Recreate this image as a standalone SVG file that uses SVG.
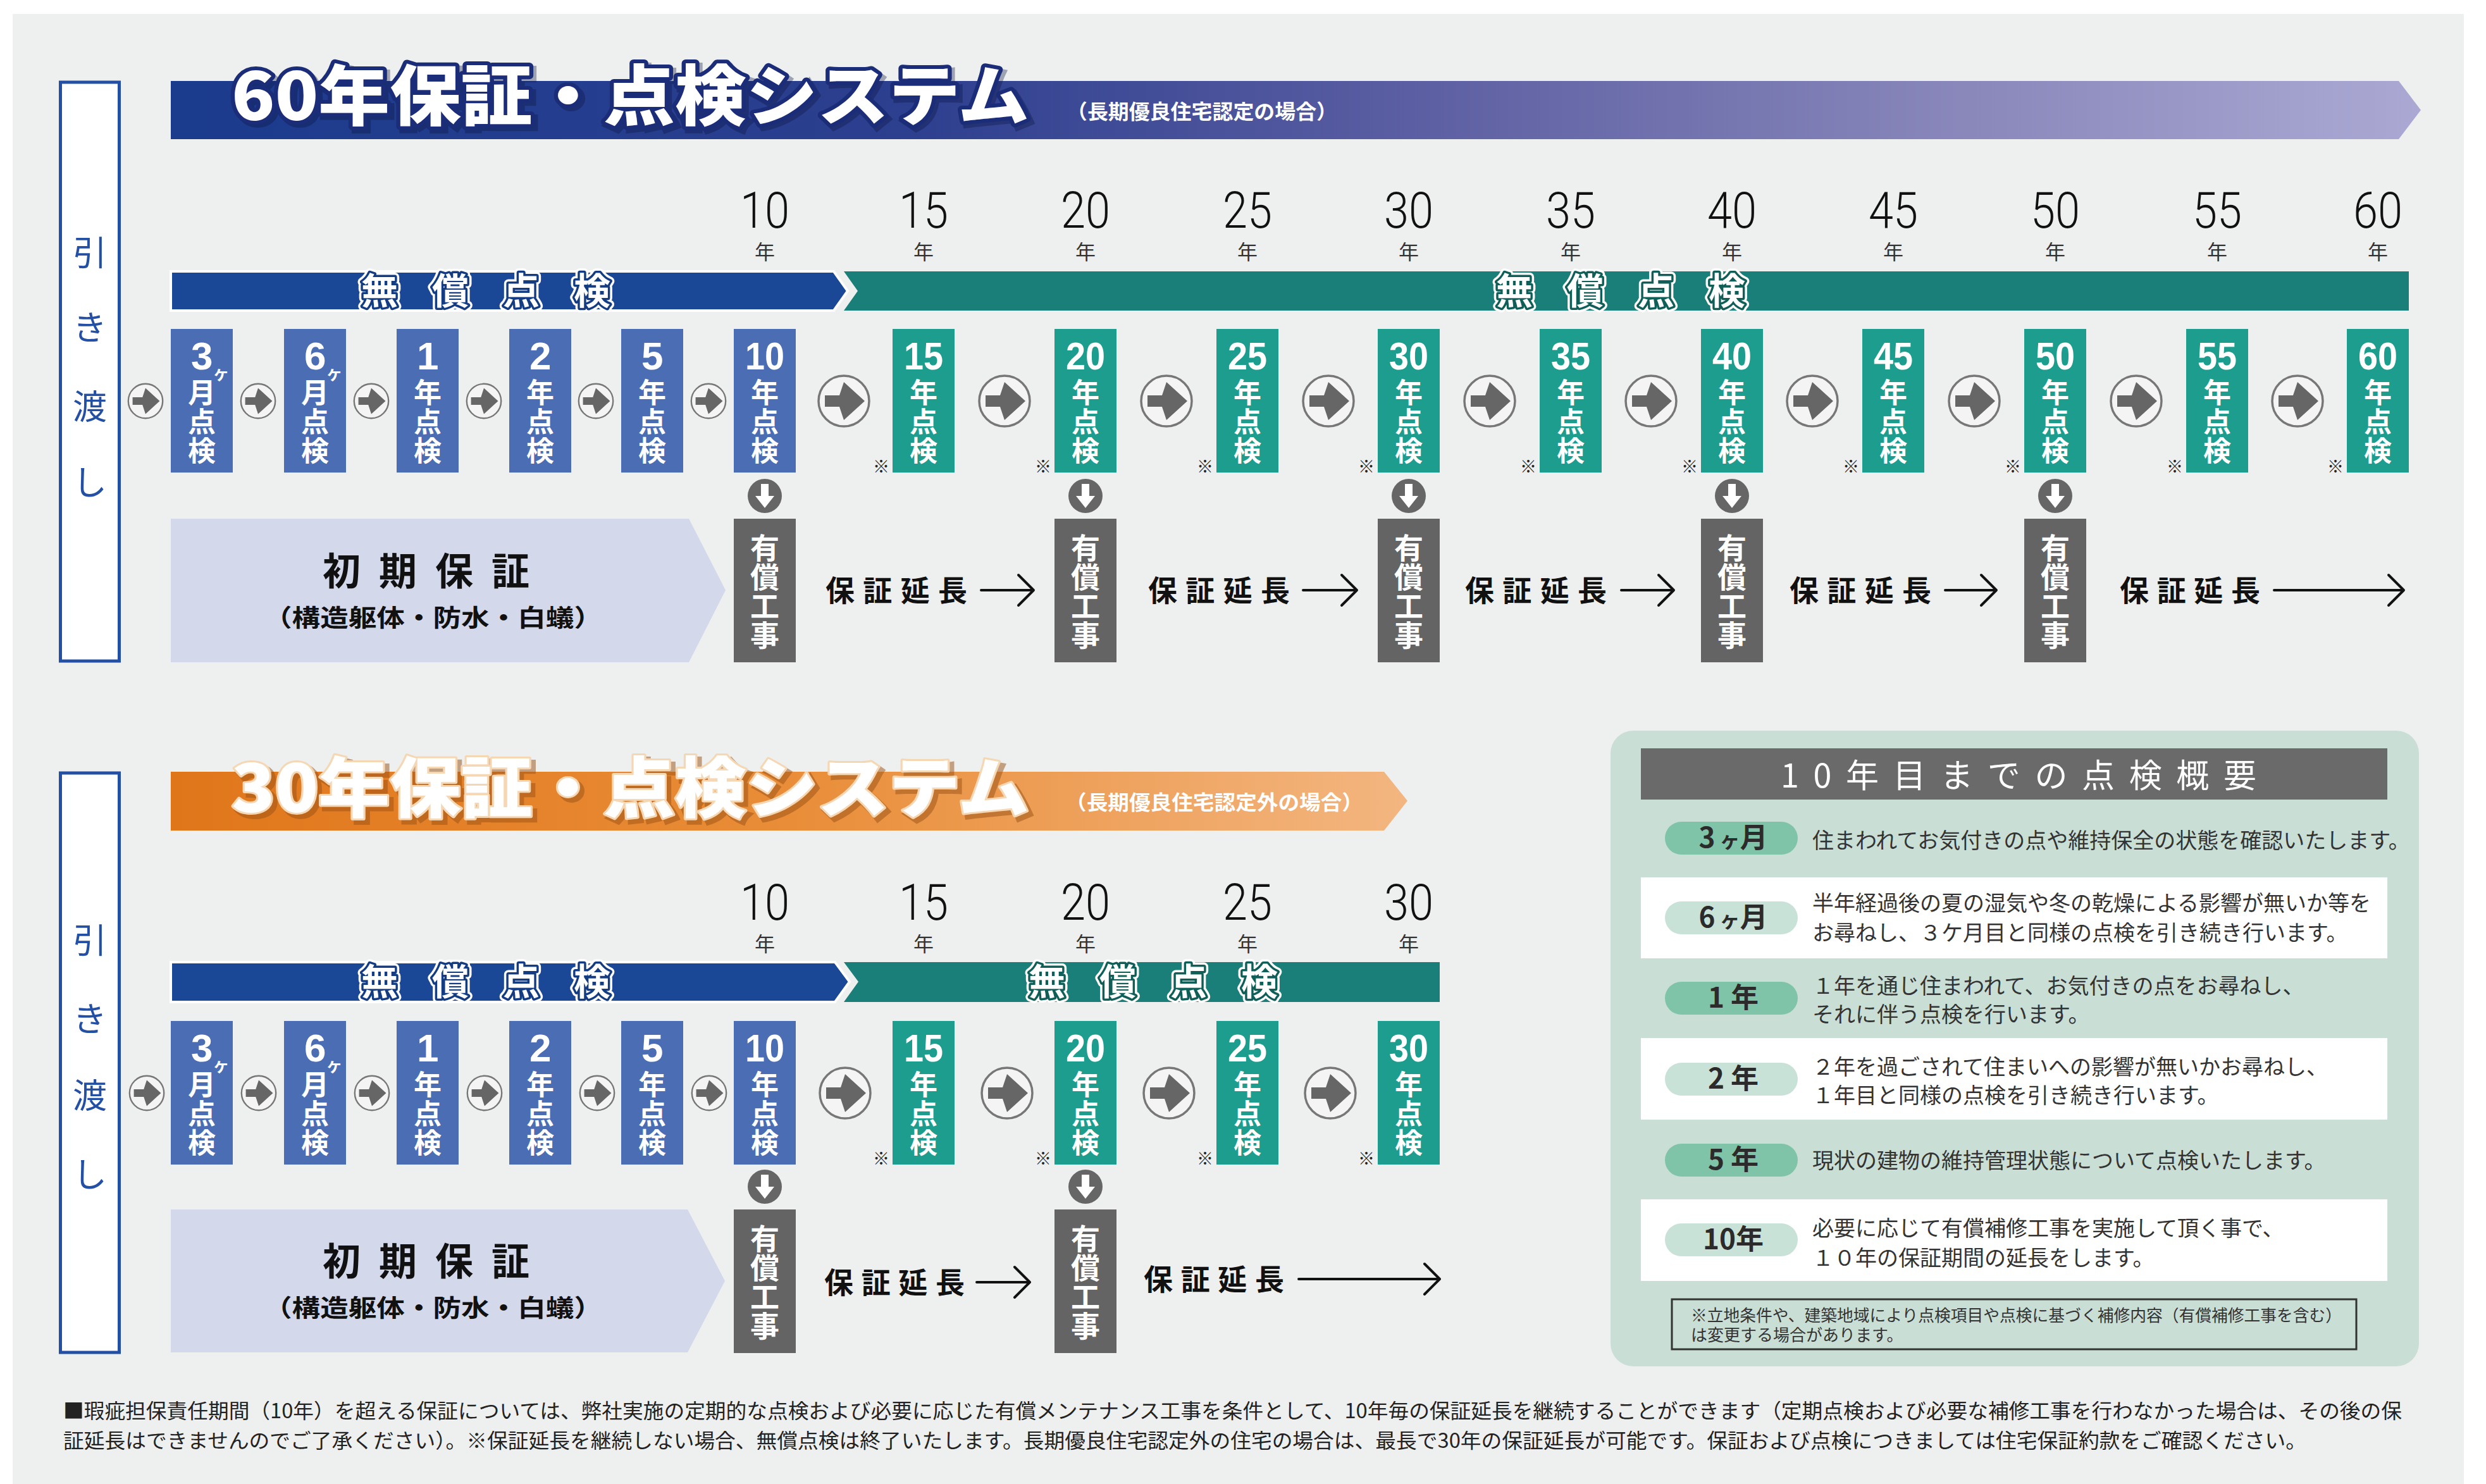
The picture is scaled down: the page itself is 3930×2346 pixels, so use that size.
<svg xmlns="http://www.w3.org/2000/svg" xmlns:xlink="http://www.w3.org/1999/xlink" width="3930" height="2346" viewBox="0 0 3930 2346">
<style>
text{font-family:'Noto Sans CJK JP','Noto Sans CJK SC',sans-serif}
.bb{fill:#4a6db3}
.bg{fill:#1d9d8e}
.bp{fill:#646464}
.dn{font-family:'Liberation Sans',Arial,sans-serif;font-size:62px;font-weight:700;fill:#fff}
.s2{font-family:'Noto Sans CJK JP',sans-serif;font-size:26px}
.vc{font-size:44px;font-weight:700;fill:#fff;writing-mode:vertical-rl;letter-spacing:2px}
.km{font-size:26px;fill:#222;text-anchor:end}
.yn{font-size:32px;fill:#333}
.yl{font-family:Roboto,'Liberation Sans',sans-serif;font-size:80px;font-weight:300;fill:#111}
.pk{font-size:46px;font-weight:700;fill:#fff;text-anchor:middle}
.ext{font-size:46px;font-weight:700;fill:#111}
.arr{fill:none;stroke:#111;stroke-width:4;stroke-linecap:round;stroke-linejoin:round}
.hw{font-size:54px;fill:#2350a5;text-anchor:middle}
.hb{fill:#fff;stroke:#2350a5;stroke-width:5}
.fb{font-size:58px;font-weight:700;fill:#fff;text-anchor:middle;stroke-linejoin:round}
.ds{font-size:34px;fill:#333}
.pt{font-size:44px;font-weight:700;fill:#2b2b2b;text-anchor:middle}
.pd{fill:#7fc4a8}
.pl{fill:#c9e2d8}
.wr{fill:#fff}
</style>
<defs>
<linearGradient id="g60" x1="270" y1="0" x2="3827" y2="0" gradientUnits="userSpaceOnUse">
<stop offset="0" stop-color="#1b3b8d"/>
<stop offset="0.33" stop-color="#2d3f8f"/>
<stop offset="0.55" stop-color="#5b5ea2"/>
<stop offset="0.8" stop-color="#8a88bb"/>
<stop offset="1" stop-color="#aba9d3"/>
</linearGradient>
<linearGradient id="g30" x1="270" y1="0" x2="2225" y2="0" gradientUnits="userSpaceOnUse">
<stop offset="0" stop-color="#e0761a"/>
<stop offset="0.5" stop-color="#e98d38"/>
<stop offset="1" stop-color="#f3b680"/>
</linearGradient>
<g id="ca">
<circle r="40" fill="#f4f4f4" stroke="#777" stroke-width="3.5"/>
<path d="M-30,-9 H-7 L0,-30 L33,0 L0,30 L-7,9 H-30 Z" fill="#666"/>
</g>
<g id="cd">
<circle r="27" fill="#666"/>
<path d="M-6,-19 H6 V0 H15 L0,19 L-15,0 H-6 Z" fill="#fff"/>
</g>
</defs>

<rect width="3930" height="2346" fill="#fff"/>
<rect x="20" y="22" width="3875" height="2324" fill="#eeefef"/>

<!-- ===================== 60 YEAR SECTION ===================== -->
<g id="sec60">
<g id="handover60"><rect class="hb" x="95.5" y="130" width="93" height="915"/><text class="hw" x="142 142 142 142" y="420 538 663 783">引き渡し</text></g>
<g id="title60">
<polygon points="270,128 3792,128 3827,174 3792,220 270,220" fill="url(#g60)"/>
<text x="371" y="195" font-size="104" font-weight="900" textLength="1261" lengthAdjust="spacingAndGlyphs" fill="#0b1640" stroke="#0b1640" stroke-width="12" opacity="0.35">60年保証・点検システム</text>
<text x="366" y="190" font-size="104" font-weight="900" textLength="1261" lengthAdjust="spacingAndGlyphs" fill="#fff" stroke="#1b2c78" stroke-width="12" stroke-linejoin="round" paint-order="stroke">60年保証・点検システム</text>
<text x="1686" y="188" font-size="32" font-weight="700" fill="#fff" textLength="428" lengthAdjust="spacingAndGlyphs">（長期優良住宅認定の場合）</text>
</g>
<g id="years60">
<text class="yn"><tspan class="yl" x="1170" y="360" textLength="78" lengthAdjust="spacingAndGlyphs">10</tspan><tspan x="1193" y="410">年</tspan></text>
<text class="yn"><tspan class="yl" x="1421" y="360" textLength="78" lengthAdjust="spacingAndGlyphs">15</tspan><tspan x="1444" y="410">年</tspan></text>
<text class="yn"><tspan class="yl" x="1677" y="360" textLength="78" lengthAdjust="spacingAndGlyphs">20</tspan><tspan x="1700" y="410">年</tspan></text>
<text class="yn"><tspan class="yl" x="1933" y="360" textLength="78" lengthAdjust="spacingAndGlyphs">25</tspan><tspan x="1956" y="410">年</tspan></text>
<text class="yn"><tspan class="yl" x="2188" y="360" textLength="78" lengthAdjust="spacingAndGlyphs">30</tspan><tspan x="2211" y="410">年</tspan></text>
<text class="yn"><tspan class="yl" x="2444" y="360" textLength="78" lengthAdjust="spacingAndGlyphs">35</tspan><tspan x="2467" y="410">年</tspan></text>
<text class="yn"><tspan class="yl" x="2699" y="360" textLength="78" lengthAdjust="spacingAndGlyphs">40</tspan><tspan x="2722" y="410">年</tspan></text>
<text class="yn"><tspan class="yl" x="2954" y="360" textLength="78" lengthAdjust="spacingAndGlyphs">45</tspan><tspan x="2977" y="410">年</tspan></text>
<text class="yn"><tspan class="yl" x="3210" y="360" textLength="78" lengthAdjust="spacingAndGlyphs">50</tspan><tspan x="3233" y="410">年</tspan></text>
<text class="yn"><tspan class="yl" x="3466" y="360" textLength="78" lengthAdjust="spacingAndGlyphs">55</tspan><tspan x="3489" y="410">年</tspan></text>
<text class="yn"><tspan class="yl" x="3720" y="360" textLength="78" lengthAdjust="spacingAndGlyphs">60</tspan><tspan x="3743" y="410">年</tspan></text>
</g>
<g id="free60a">
<polygon points="270,429 1318,429 1340,460 1318,491 270,491" fill="#1a4896" stroke="#fff" stroke-width="4"/>
<text class="fb" x="600 712 824 936" y="481" stroke="#fff" stroke-width="14">無償点検</text>
<text class="fb" x="600 712 824 936" y="481" stroke="#133c82" stroke-width="7" paint-order="stroke">無償点検</text>
</g>
<g id="free60b">
<polygon points="1334,429 3808,429 3808,491 1334,491 1356,460" fill="#1a7f78"/>
<text class="fb" x="2394 2506 2618 2730" y="481" stroke="#fff" stroke-width="14">無償点検</text>
<text class="fb" x="2394 2506 2618 2730" y="481" stroke="#0f5e58" stroke-width="7" paint-order="stroke">無償点検</text>
</g>
<g id="n60-3m"><rect class="bb" x="270" y="520" width="98" height="227"/><text class="dn" x="302" y="584">3<tspan class="s2" dy="16">ヶ</tspan></text><text class="vc" x="319" y="598">月点検</text></g>
<g id="n60-6m"><rect class="bb" x="449" y="520" width="98" height="227"/><text class="dn" x="481" y="584">6<tspan class="s2" dy="16">ヶ</tspan></text><text class="vc" x="498" y="598">月点検</text></g>
<g id="n60-1y"><rect class="bb" x="627" y="520" width="98" height="227"/><text class="dn" x="659" y="584">1</text><text class="vc" x="676" y="598">年点検</text></g>
<g id="n60-2y"><rect class="bb" x="805" y="520" width="98" height="227"/><text class="dn" x="837" y="584">2</text><text class="vc" x="854" y="598">年点検</text></g>
<g id="n60-5y"><rect class="bb" x="982" y="520" width="98" height="227"/><text class="dn" x="1014" y="584">5</text><text class="vc" x="1031" y="598">年点検</text></g>
<g id="n60-10y"><rect class="bb" x="1160" y="520" width="98" height="227"/><text class="dn" x="1178" y="584" textLength="62" lengthAdjust="spacingAndGlyphs">10</text><text class="vc" x="1209" y="598">年点検</text></g>
<g id="n60-15y"><rect class="bg" x="1411" y="520" width="98" height="227"/><text class="dn" x="1429" y="584" textLength="62" lengthAdjust="spacingAndGlyphs">15</text><text class="vc" x="1460" y="598">年点検</text><text class="km" x="1406" y="747">※</text></g>
<g id="n60-20y"><rect class="bg" x="1667" y="520" width="98" height="227"/><text class="dn" x="1685" y="584" textLength="62" lengthAdjust="spacingAndGlyphs">20</text><text class="vc" x="1716" y="598">年点検</text><text class="km" x="1662" y="747">※</text></g>
<g id="n60-25y"><rect class="bg" x="1923" y="520" width="98" height="227"/><text class="dn" x="1941" y="584" textLength="62" lengthAdjust="spacingAndGlyphs">25</text><text class="vc" x="1972" y="598">年点検</text><text class="km" x="1918" y="747">※</text></g>
<g id="n60-30y"><rect class="bg" x="2178" y="520" width="98" height="227"/><text class="dn" x="2196" y="584" textLength="62" lengthAdjust="spacingAndGlyphs">30</text><text class="vc" x="2227" y="598">年点検</text><text class="km" x="2173" y="747">※</text></g>
<g id="n60-35y"><rect class="bg" x="2434" y="520" width="98" height="227"/><text class="dn" x="2452" y="584" textLength="62" lengthAdjust="spacingAndGlyphs">35</text><text class="vc" x="2483" y="598">年点検</text><text class="km" x="2429" y="747">※</text></g>
<g id="n60-40y"><rect class="bg" x="2689" y="520" width="98" height="227"/><text class="dn" x="2707" y="584" textLength="62" lengthAdjust="spacingAndGlyphs">40</text><text class="vc" x="2738" y="598">年点検</text><text class="km" x="2684" y="747">※</text></g>
<g id="n60-45y"><rect class="bg" x="2944" y="520" width="98" height="227"/><text class="dn" x="2962" y="584" textLength="62" lengthAdjust="spacingAndGlyphs">45</text><text class="vc" x="2993" y="598">年点検</text><text class="km" x="2939" y="747">※</text></g>
<g id="n60-50y"><rect class="bg" x="3200" y="520" width="98" height="227"/><text class="dn" x="3218" y="584" textLength="62" lengthAdjust="spacingAndGlyphs">50</text><text class="vc" x="3249" y="598">年点検</text><text class="km" x="3195" y="747">※</text></g>
<g id="n60-55y"><rect class="bg" x="3456" y="520" width="98" height="227"/><text class="dn" x="3474" y="584" textLength="62" lengthAdjust="spacingAndGlyphs">55</text><text class="vc" x="3505" y="598">年点検</text><text class="km" x="3451" y="747">※</text></g>
<g id="n60-60y"><rect class="bg" x="3710" y="520" width="98" height="227"/><text class="dn" x="3728" y="584" textLength="62" lengthAdjust="spacingAndGlyphs">60</text><text class="vc" x="3759" y="598">年点検</text><text class="km" x="3705" y="747">※</text></g>
<g id="init60"><polygon points="270,820 1089,820 1147,933 1089,1047 270,1047" fill="#d3d8ea"/><text x="540 629 718 807" y="925" font-size="60" font-weight="700" fill="#111" text-anchor="middle">初期保証</text><text x="417" y="990" font-size="38" font-weight="700" fill="#111" textLength="535" lengthAdjust="spacingAndGlyphs">（構造躯体・防水・白蟻）</text></g>
<g id="p60-10"><rect class="bp" x="1160" y="820" width="98" height="227"/><text class="pk" x="1209 1209 1209 1209" y="883 929 975 1021">有償工事</text></g>
<g id="p60-20"><rect class="bp" x="1667" y="820" width="98" height="227"/><text class="pk" x="1716 1716 1716 1716" y="883 929 975 1021">有償工事</text></g>
<g id="p60-30"><rect class="bp" x="2178" y="820" width="98" height="227"/><text class="pk" x="2227 2227 2227 2227" y="883 929 975 1021">有償工事</text></g>
<g id="p60-40"><rect class="bp" x="2689" y="820" width="98" height="227"/><text class="pk" x="2738 2738 2738 2738" y="883 929 975 1021">有償工事</text></g>
<g id="p60-50"><rect class="bp" x="3200" y="820" width="98" height="227"/><text class="pk" x="3249 3249 3249 3249" y="883 929 975 1021">有償工事</text></g>
<g id="connectors60">
<use xlink:href="#ca" transform="translate(230,634) scale(0.68)"/>
<use xlink:href="#ca" transform="translate(408,634) scale(0.68)"/>
<use xlink:href="#ca" transform="translate(587,634) scale(0.68)"/>
<use xlink:href="#ca" transform="translate(765,634) scale(0.68)"/>
<use xlink:href="#ca" transform="translate(942,634) scale(0.68)"/>
<use xlink:href="#ca" transform="translate(1120,634) scale(0.68)"/>
<use xlink:href="#ca" transform="translate(1334,634)"/>
<use xlink:href="#ca" transform="translate(1588,634)"/>
<use xlink:href="#ca" transform="translate(1844,634)"/>
<use xlink:href="#ca" transform="translate(2100,634)"/>
<use xlink:href="#ca" transform="translate(2355,634)"/>
<use xlink:href="#ca" transform="translate(2610,634)"/>
<use xlink:href="#ca" transform="translate(2865,634)"/>
<use xlink:href="#ca" transform="translate(3121,634)"/>
<use xlink:href="#ca" transform="translate(3377,634)"/>
<use xlink:href="#ca" transform="translate(3632,634)"/>
<use xlink:href="#cd" transform="translate(1209,784)"/>
<use xlink:href="#cd" transform="translate(1716,784)"/>
<use xlink:href="#cd" transform="translate(2227,784)"/>
<use xlink:href="#cd" transform="translate(2738,784)"/>
<use xlink:href="#cd" transform="translate(3249,784)"/>
<text class="ext" x="1305" y="950" textLength="224" lengthAdjust="spacing">保証延長</text>
<path class="arr" d="M1551,933 H1634 M1610,909 L1634,933 L1610,957"/>
<text class="ext" x="1815" y="950" textLength="224" lengthAdjust="spacing">保証延長</text>
<path class="arr" d="M2060,933 H2145 M2121,909 L2145,933 L2121,957"/>
<text class="ext" x="2316" y="950" textLength="224" lengthAdjust="spacing">保証延長</text>
<path class="arr" d="M2563,933 H2646 M2622,909 L2646,933 L2622,957"/>
<text class="ext" x="2829" y="950" textLength="224" lengthAdjust="spacing">保証延長</text>
<path class="arr" d="M3075,933 H3156 M3132,909 L3156,933 L3132,957"/>
<text class="ext" x="3351" y="950" textLength="222" lengthAdjust="spacing">保証延長</text>
<path class="arr" d="M3595,933 H3800 M3776,909 L3800,933 L3776,957"/>
</g>
</g>

<!-- ===================== 30 YEAR SECTION ===================== -->
<g id="sec30" transform="translate(0,1094)">
<g id="handover30"><rect class="hb" x="95.5" y="128" width="93" height="916"/><text class="hw" x="142 142 142 142" y="413 537 658 783">引き渡し</text></g>
<g id="title30">
<polygon points="270,126 2188,126 2225,172 2188,219 270,219" fill="url(#g30)"/>
<text x="372" y="196" font-size="104" font-weight="900" textLength="1261" lengthAdjust="spacingAndGlyphs" fill="#9a5216" stroke="#9a5216" stroke-width="8" opacity="0.5">30年保証・点検システム</text>
<text x="366" y="190" font-size="104" font-weight="900" textLength="1261" lengthAdjust="spacingAndGlyphs" fill="#fff" stroke="#f6d7b4" stroke-width="6" stroke-linejoin="round" paint-order="stroke">30年保証・点検システム</text>
<text x="1684" y="186" font-size="32" font-weight="700" fill="#fff" textLength="471" lengthAdjust="spacingAndGlyphs">（長期優良住宅認定外の場合）</text>
</g>
<g id="years30">
<text class="yn"><tspan class="yl" x="1170" y="360" textLength="78" lengthAdjust="spacingAndGlyphs">10</tspan><tspan x="1193" y="410">年</tspan></text>
<text class="yn"><tspan class="yl" x="1421" y="360" textLength="78" lengthAdjust="spacingAndGlyphs">15</tspan><tspan x="1444" y="410">年</tspan></text>
<text class="yn"><tspan class="yl" x="1677" y="360" textLength="78" lengthAdjust="spacingAndGlyphs">20</tspan><tspan x="1700" y="410">年</tspan></text>
<text class="yn"><tspan class="yl" x="1933" y="360" textLength="78" lengthAdjust="spacingAndGlyphs">25</tspan><tspan x="1956" y="410">年</tspan></text>
<text class="yn"><tspan class="yl" x="2188" y="360" textLength="78" lengthAdjust="spacingAndGlyphs">30</tspan><tspan x="2211" y="410">年</tspan></text>
</g>
<g id="free30a">
<polygon points="270,427 1320,427 1343,458 1320,490 270,490" fill="#1a4896" stroke="#fff" stroke-width="4"/>
<text class="fb" x="600 712 824 936" y="479" stroke="#fff" stroke-width="14">無償点検</text>
<text class="fb" x="600 712 824 936" y="479" stroke="#133c82" stroke-width="7" paint-order="stroke">無償点検</text>
</g>
<g id="free30b">
<polygon points="1334,427 2276,427 2276,490 1334,490 1357,458" fill="#1a7f78"/>
<text class="fb" x="1655 1767 1879 1991" y="479" stroke="#fff" stroke-width="14">無償点検</text>
<text class="fb" x="1655 1767 1879 1991" y="479" stroke="#0f5e58" stroke-width="7" paint-order="stroke">無償点検</text>
</g>
<g id="n30-3m"><rect class="bb" x="270" y="520" width="98" height="227"/><text class="dn" x="302" y="584">3<tspan class="s2" dy="16">ヶ</tspan></text><text class="vc" x="319" y="598">月点検</text></g>
<g id="n30-6m"><rect class="bb" x="449" y="520" width="98" height="227"/><text class="dn" x="481" y="584">6<tspan class="s2" dy="16">ヶ</tspan></text><text class="vc" x="498" y="598">月点検</text></g>
<g id="n30-1y"><rect class="bb" x="627" y="520" width="98" height="227"/><text class="dn" x="659" y="584">1</text><text class="vc" x="676" y="598">年点検</text></g>
<g id="n30-2y"><rect class="bb" x="805" y="520" width="98" height="227"/><text class="dn" x="837" y="584">2</text><text class="vc" x="854" y="598">年点検</text></g>
<g id="n30-5y"><rect class="bb" x="982" y="520" width="98" height="227"/><text class="dn" x="1014" y="584">5</text><text class="vc" x="1031" y="598">年点検</text></g>
<g id="n30-10y"><rect class="bb" x="1160" y="520" width="98" height="227"/><text class="dn" x="1178" y="584" textLength="62" lengthAdjust="spacingAndGlyphs">10</text><text class="vc" x="1209" y="598">年点検</text></g>
<g id="n30-15y"><rect class="bg" x="1411" y="520" width="98" height="227"/><text class="dn" x="1429" y="584" textLength="62" lengthAdjust="spacingAndGlyphs">15</text><text class="vc" x="1460" y="598">年点検</text><text class="km" x="1406" y="747">※</text></g>
<g id="n30-20y"><rect class="bg" x="1667" y="520" width="98" height="227"/><text class="dn" x="1685" y="584" textLength="62" lengthAdjust="spacingAndGlyphs">20</text><text class="vc" x="1716" y="598">年点検</text><text class="km" x="1662" y="747">※</text></g>
<g id="n30-25y"><rect class="bg" x="1923" y="520" width="98" height="227"/><text class="dn" x="1941" y="584" textLength="62" lengthAdjust="spacingAndGlyphs">25</text><text class="vc" x="1972" y="598">年点検</text><text class="km" x="1918" y="747">※</text></g>
<g id="n30-30y"><rect class="bg" x="2178" y="520" width="98" height="227"/><text class="dn" x="2196" y="584" textLength="62" lengthAdjust="spacingAndGlyphs">30</text><text class="vc" x="2227" y="598">年点検</text><text class="km" x="2173" y="747">※</text></g>
<g id="init30"><polygon points="270,818 1087,818 1146,931 1087,1044 270,1044" fill="#d3d8ea"/><text x="540 629 718 807" y="922" font-size="60" font-weight="700" fill="#111" text-anchor="middle">初期保証</text><text x="417" y="987" font-size="38" font-weight="700" fill="#111" textLength="535" lengthAdjust="spacingAndGlyphs">（構造躯体・防水・白蟻）</text></g>
<g id="p30-10"><rect class="bp" x="1160" y="818" width="98" height="227"/><text class="pk" x="1209 1209 1209 1209" y="881 927 973 1019">有償工事</text></g>
<g id="p30-20"><rect class="bp" x="1667" y="818" width="98" height="227"/><text class="pk" x="1716 1716 1716 1716" y="881 927 973 1019">有償工事</text></g>
<g id="connectors30">
<use xlink:href="#ca" transform="translate(232,634) scale(0.68)"/>
<use xlink:href="#ca" transform="translate(409,634) scale(0.68)"/>
<use xlink:href="#ca" transform="translate(588,634) scale(0.68)"/>
<use xlink:href="#ca" transform="translate(766,634) scale(0.68)"/>
<use xlink:href="#ca" transform="translate(944,634) scale(0.68)"/>
<use xlink:href="#ca" transform="translate(1121,634) scale(0.68)"/>
<use xlink:href="#ca" transform="translate(1336,634)"/>
<use xlink:href="#ca" transform="translate(1592,634)"/>
<use xlink:href="#ca" transform="translate(1848,634)"/>
<use xlink:href="#ca" transform="translate(2103,634)"/>
<use xlink:href="#cd" transform="translate(1209,782)"/>
<use xlink:href="#cd" transform="translate(1716,782)"/>
<text class="ext" x="1303" y="950" textLength="222" lengthAdjust="spacing">保証延長</text>
<path class="arr" d="M1544,933 H1628 M1604,909 L1628,933 L1604,957"/>
<text class="ext" x="1808" y="945" textLength="222" lengthAdjust="spacing">保証延長</text>
<path class="arr" d="M2053,928 H2276 M2252,904 L2276,928 L2252,952"/>
</g>
</g>

<!-- ===================== SUMMARY PANEL ===================== -->
<g id="summary">
<rect x="2546" y="1155" width="1278" height="1005" rx="36" fill="#c9ded5"/>
<rect x="2594" y="1183" width="1180" height="81" fill="#6a6a6a"/>
<text x="2815" y="1245" font-size="52" fill="#fff" textLength="752" lengthAdjust="spacing">10年目までの点検概要</text>
<g id="row-3m"><rect class="pd" x="2632" y="1299" width="210" height="52" rx="26"/><text class="pt" x="2740" y="1340">3<tspan font-size="32"> ヶ</tspan>月</text><text class="ds" x="2865" y="1341">住まわれてお気付きの点や維持保全の状態を確認いたします。</text></g>
<g id="row-6m"><rect class="wr" x="2594" y="1387" width="1180" height="128"/><rect class="pl" x="2632" y="1425" width="210" height="52" rx="26"/><text class="pt" x="2740" y="1466">6<tspan font-size="32"> ヶ</tspan>月</text><text class="ds" x="2865" y="1440">半年経過後の夏の湿気や冬の乾燥による影響が無いか等を</text><text class="ds" x="2865" y="1487">お尋ねし、３ケ月目と同様の点検を引き続き行います。</text></g>
<g id="row-1y"><rect class="pd" x="2632" y="1552" width="210" height="52" rx="26"/><text class="pt" x="2740" y="1593">1 年</text><text class="ds" x="2865" y="1571">１年を通じ住まわれて、お気付きの点をお尋ねし、</text><text class="ds" x="2865" y="1616">それに伴う点検を行います。</text></g>
<g id="row-2y"><rect class="wr" x="2594" y="1641" width="1180" height="129"/><rect class="pl" x="2632" y="1680" width="210" height="52" rx="26"/><text class="pt" x="2740" y="1721">2 年</text><text class="ds" x="2865" y="1699">２年を過ごされて住まいへの影響が無いかお尋ねし、</text><text class="ds" x="2865" y="1744">１年目と同様の点検を引き続き行います。</text></g>
<g id="row-5y"><rect class="pd" x="2632" y="1808" width="210" height="52" rx="26"/><text class="pt" x="2740" y="1849">5 年</text><text class="ds" x="2865" y="1847">現状の建物の維持管理状態について点検いたします。</text></g>
<g id="row-10y"><rect class="wr" x="2594" y="1896" width="1180" height="129"/><rect class="pl" x="2632" y="1934" width="210" height="52" rx="26"/><text class="pt" x="2740" y="1975">10年</text><text class="ds" x="2865" y="1954">必要に応じて有償補修工事を実施して頂く事で、</text><text class="ds" x="2865" y="2001">１０年の保証期間の延長をします。</text></g>
<g id="note"><rect x="2643" y="2054" width="1082" height="79" fill="none" stroke="#333" stroke-width="3"/><text x="2673" y="2089" font-size="26" fill="#333" textLength="1029" lengthAdjust="spacingAndGlyphs">※立地条件や、建築地域により点検項目や点検に基づく補修内容（有償補修工事を含む）</text><text x="2673" y="2120" font-size="26" fill="#333">は変更する場合があります。</text></g>
</g>

<!-- ===================== FOOTER ===================== -->
<g id="footer">
<text x="100" y="2242" font-size="32" fill="#222" textLength="3697" lengthAdjust="spacingAndGlyphs">■瑕疵担保責任期間（10年）を超える保証については、弊社実施の定期的な点検および必要に応じた有償メンテナンス工事を条件として、10年毎の保証延長を継続することができます（定期点検および必要な補修工事を行わなかった場合は、その後の保</text>
<text x="100" y="2289" font-size="32" fill="#222" textLength="3546" lengthAdjust="spacingAndGlyphs">証延長はできませんのでご了承ください）。※保証延長を継続しない場合、無償点検は終了いたします。長期優良住宅認定外の住宅の場合は、最長で30年の保証延長が可能です。保証および点検につきましては住宅保証約款をご確認ください。</text>
</g>
</svg>
